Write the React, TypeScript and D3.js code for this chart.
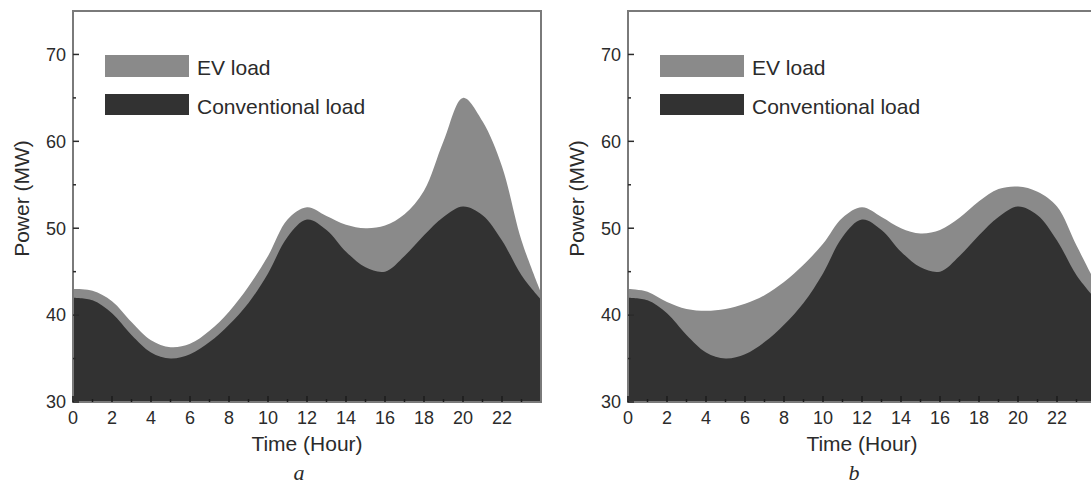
import React from "react";
import * as d3 from "d3";

// Hourly load profile, 0..24 h
const hours = d3.range(0, 25);
const conventionalLoad = [
  42.0, 41.7, 40.2, 37.7, 35.7, 35.0, 35.5, 36.9, 38.9, 41.4, 44.8, 49.0, 51.0,
  49.8, 47.3, 45.5, 45.0, 46.8, 49.2, 51.3, 52.5, 51.5, 48.6, 44.6, 41.8,
];
// EV charging load, uncoordinated (a) and coordinated (b)
const evLoadA = [
  1.0, 1.1, 1.4, 1.5, 1.4, 1.3, 1.2, 1.3, 1.5, 1.9, 2.0, 2.0, 1.4, 1.6, 3.1,
  4.5, 5.3, 4.8, 5.1, 8.7, 12.5, 10.8, 8.5, 4.0, 0.8,
];
const evLoadB = [
  1.0, 1.0, 1.3, 3.0, 4.8, 5.7, 5.8, 5.4, 4.9, 4.4, 3.4, 2.2, 1.4, 1.5, 2.7,
  3.9, 4.8, 4.4, 3.9, 3.2, 2.3, 2.7, 3.9, 3.4, 1.8,
];
const xTicks = [0, 2, 4, 6, 8, 10, 12, 14, 16, 18, 20, 22];
const yTicks = [30, 40, 50, 60, 70];
const yMinorTicks = [35, 45, 55, 65];
const seriesNames = ["EV load", "Conventional load"];
const panelLabels = ["a", "b"];

const W = 1091;
const H = 484;
const PW = 468; // plot width
const TOP = 11;
const BOTTOM = 402;
const DARK = "#323232";
const GREY = "#8a8a8a";
const FRAME = "#7a7a7a";
const TEXT = "#2b2b2b";
const SANS = "'Liberation Sans', Arial, sans-serif";

type PanelProps = { left: number; ev: number[]; label: string; id: string };

function Panel({ left, ev, label, id }: PanelProps) {
  const x = d3.scaleLinear().domain([0, 24]).range([left, left + PW]);
  const y = d3.scaleLinear().domain([30, 75]).range([BOTTOM, TOP]);

  const rows = hours.map((h, i) => ({
    hour: h,
    conventional: conventionalLoad[i],
    ev: ev[i],
  }));
  const stack = d3.stack<any>().keys(["conventional", "ev"]);
  const layers = stack(rows);
  const curve = d3.curveCatmullRom.alpha(0.5);

  // Stacked layer tops, each filled down to the axis floor
  const layerArea = d3
    .area<any>()
    .x((d) => x(d.data.hour))
    .y0(y(30))
    .y1((d) => y(d[1]))
    .curve(curve);

  const cx = x(12);

  return (
    <g>
      <defs>
        <clipPath id={`clip-${id}`}>
          <rect x={left} y={TOP} width={PW} height={BOTTOM - TOP} />
        </clipPath>
      </defs>
      <g clipPath={`url(#clip-${id})`}>
        <path d={layerArea(layers[1]) || ""} fill={GREY} />
        <path d={layerArea(layers[0]) || ""} fill={DARK} />
      </g>

      {/* frame */}
      <rect
        x={left}
        y={TOP}
        width={PW}
        height={BOTTOM - TOP}
        fill="none"
        stroke={FRAME}
        strokeWidth={2}
      />

      {/* y ticks (inward) */}
      {yTicks.map((t) => (
        <g key={`y${t}`}>
          <line x1={left} x2={left + 6} y1={y(t)} y2={y(t)} stroke={TEXT} strokeWidth={1.5} />
          <text
            x={left - 7}
            y={y(t)}
            dy="0.35em"
            textAnchor="end"
            fontFamily={SANS}
            fontSize={18}
            fill={TEXT}
          >
            {t}
          </text>
        </g>
      ))}
      {yMinorTicks.map((t) => (
        <line key={`ym${t}`} x1={left} x2={left + 3} y1={y(t)} y2={y(t)} stroke={TEXT} strokeWidth={1.5} />
      ))}

      {/* x ticks (inward) */}
      {d3.range(0, 24).map((t) => (
        <line
          key={`x${t}`}
          x1={x(t)}
          x2={x(t)}
          y1={BOTTOM}
          y2={BOTTOM - (t % 2 === 0 ? 6 : 3)}
          stroke="#1c1c1c"
          strokeWidth={1.5}
        />
      ))}
      {xTicks.map((t) => (
        <text
          key={`xl${t}`}
          x={x(t)}
          y={424}
          textAnchor="middle"
          fontFamily={SANS}
          fontSize={18}
          fill={TEXT}
        >
          {t}
        </text>
      ))}

      {/* axis titles */}
      <text x={cx} y={451} textAnchor="middle" fontFamily={SANS} fontSize={21} fill={TEXT}>
        Time (Hour)
      </text>
      <text
        transform={`translate(${left - 44},${(TOP + BOTTOM) / 2 - 8}) rotate(-90)`}
        textAnchor="middle"
        fontFamily={SANS}
        fontSize={21}
        fill={TEXT}
      >
        Power (MW)
      </text>
      <text
        x={cx - 8}
        y={480}
        textAnchor="middle"
        fontFamily="'Liberation Serif', 'Times New Roman', serif"
        fontStyle="italic"
        fontSize={22}
        fill={TEXT}
      >
        {label}
      </text>

      {/* legend */}
      <rect x={left + 32} y={55} width={84} height={22} fill={GREY} />
      <text x={left + 124} y={75} fontFamily={SANS} fontSize={21} fill={TEXT}>
        {seriesNames[0]}
      </text>
      <rect x={left + 32} y={94} width={84} height={21} fill={DARK} />
      <text x={left + 124} y={114} fontFamily={SANS} fontSize={21} fill={TEXT}>
        {seriesNames[1]}
      </text>
    </g>
  );
}

export default function App() {
  return (
    <svg
      width={W}
      height={H}
      viewBox={`0 0 ${W} ${H}`}
      style={{ position: "absolute", left: 0, top: 0, background: "#fff" }}
    >
      <rect width={W} height={H} fill="#fff" />
      <Panel left={73} ev={evLoadA} label={panelLabels[0]} id="a" />
      <Panel left={628} ev={evLoadB} label={panelLabels[1]} id="b" />
    </svg>
  );
}
